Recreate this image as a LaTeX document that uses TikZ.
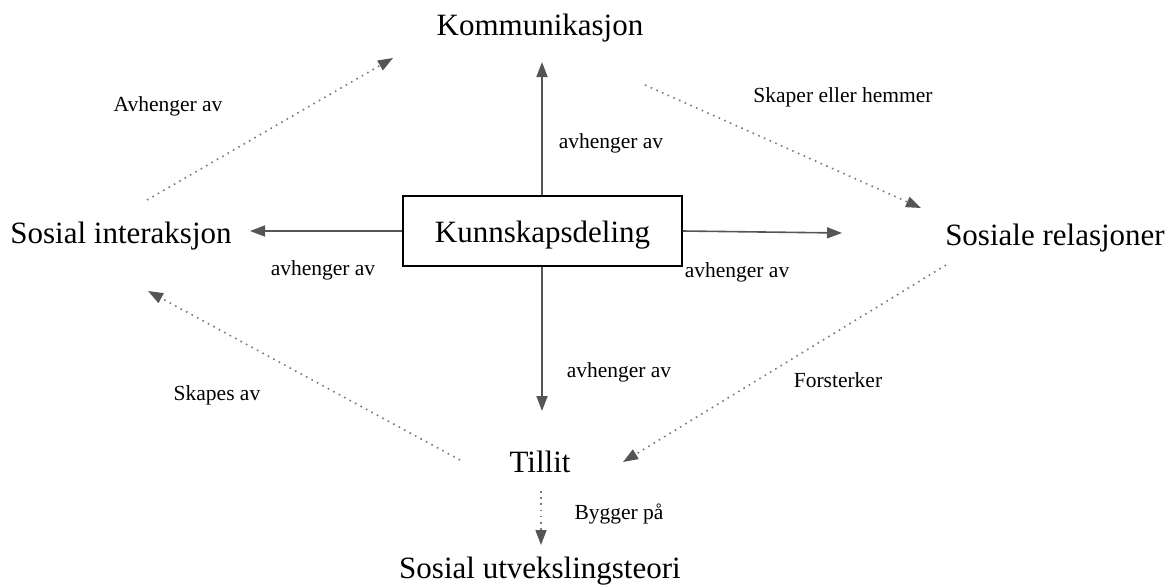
\documentclass[tikz,border=0pt]{standalone}
\usepackage{fontspec}
\setmainfont{Liberation Serif}
\usetikzlibrary{arrows.meta}
\definecolor{arrowgray}{HTML}{555555}
\definecolor{dotgray}{HTML}{7A7A7A}
\begin{document}
\begin{tikzpicture}[x=1pt,y=-1pt,
  concept/.style={inner sep=0pt,anchor=base,font=\fontsize{31}{37}\selectfont},
  rel/.style={inner sep=0pt,anchor=base,font=\fontsize{21.5}{26}\selectfont},
  centerbox/.style={draw=black,line width=1.5pt,minimum width=279pt,minimum height=70pt,inner sep=0pt,
    text height=30pt,text depth=7pt,font=\fontsize{31}{37}\selectfont},
  solidarrow/.style={draw=arrowgray,line width=1.6pt,-{Triangle[length=15pt,width=11pt]}},
  dotarrow/.style={draw=dotgray,line width=1.6pt,dash pattern=on 1.6pt off 4.6pt,-{Triangle[length=15pt,width=11pt,color=arrowgray]}}
]
\useasboundingbox (0,0) rectangle (1175,587);

% concepts
\node[centerbox] (kd) at (542.5,231) {Kunnskapsdeling};
\node[concept] (kom) at (540,35) {Kommunikasjon};
\node[concept] (si) at (121,243) {Sosial interaksjon};
\node[concept] (sr) at (1055,245) {Sosiale relasjoner};
\node[concept] (til) at (540,472) {Tillit};
\node[concept] (sut) at (540,578) {Sosial utvekslingsteori};

% arrow ends near the concepts
\coordinate (komIn) at (542,62);
\coordinate (siIn) at (250,231);
\coordinate (srIn) at (842,233);
\coordinate (tilIn) at (542,411);
\coordinate (siOut) at (147,200);
\coordinate (komInD) at (393,58);
\coordinate (komOut) at (645,85);
\coordinate (srInD) at (921,208);
\coordinate (srOut) at (946,265);
\coordinate (tilInD) at (623,462);
\coordinate (tilOutL) at (460,460);
\coordinate (siInD) at (148,291);
\coordinate (tilOutB) at (541,491);
\coordinate (sutIn) at (541,545);

% solid arrows out of the central box
\draw[solidarrow] (kd.north -| komIn) -- (komIn);
\draw[solidarrow] (kd.west) -- (siIn);
\draw[solidarrow] (kd.east) -- (srIn);
\draw[solidarrow] (kd.south -| tilIn) -- (tilIn);

\node[rel] at (611,148) {avhenger av};
\node[rel] at (323,275) {avhenger av};
\node[rel] at (737,277) {avhenger av};
\node[rel] at (619,377) {avhenger av};

% dotted relations around the edge
\draw[dotarrow] (siOut) -- (komInD);
\draw[dotarrow] (komOut) -- (srInD);
\draw[dotarrow] (srOut) -- (tilInD);
\draw[dotarrow] (tilOutL) -- (siInD);
\draw[dotarrow] (tilOutB) -- (sutIn);

\node[rel] at (168,111) {Avhenger av};
\node[rel] at (843,102) {Skaper eller hemmer};
\node[rel] at (838,387) {Forsterker};
\node[rel] at (217,400) {Skapes av};
\node[rel] at (619,519) {Bygger på};
\end{tikzpicture}
\end{document}
